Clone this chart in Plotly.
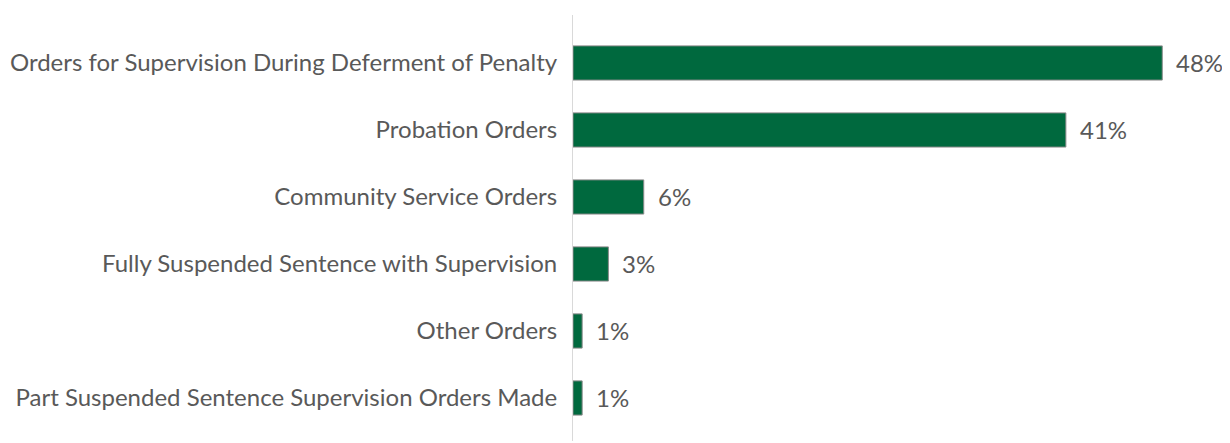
import plotly.graph_objects as go

categories = [
    "Orders for Supervision During Deferment of Penalty",
    "Probation Orders",
    "Community Service Orders",
    "Fully Suspended Sentence with Supervision",
    "Other Orders",
    "Part Suspended Sentence Supervision Orders Made",
]
values = [48.3, 40.4, 5.8, 2.9, 0.75, 0.75]
value_labels = ["48%", "41%", "6%", "3%", "1%", "1%"]

FONT = "Lato, 'Open Sans', sans-serif"
TXT = "#595959"
FS = 24

fig = go.Figure()
fig.add_trace(go.Bar(
    y=categories, x=values, orientation="h",
    marker=dict(color="#00693E", line=dict(color="#8a8a8a", width=1)),
    width=0.51, hoverinfo="skip",
))

for c, v, t in zip(categories, values, value_labels):
    fig.add_annotation(x=v, y=c, text=t, showarrow=False, xanchor="left",
                       yanchor="middle", xshift=12,
                       font=dict(family=FONT, size=FS, color=TXT))

n = len(categories)
fig.update_layout(
    width=1222, height=435,
    margin=dict(l=560, r=47, t=7, b=2),
    paper_bgcolor="white", plot_bgcolor="white",
    showlegend=False,
    font=dict(family=FONT, size=FS, color=TXT),
    xaxis=dict(range=[0, 50], visible=False, showgrid=False, zeroline=False),
    yaxis=dict(
        categoryorder="array", categoryarray=categories,
        range=[n - 1 + 0.642, -0.716],
        showline=True, linecolor="#d9d9d9", linewidth=1,
        showgrid=False, zeroline=False, ticks="",
        ticklabelstandoff=10,
        tickfont=dict(family=FONT, size=FS, color=TXT),
    ),
)

fig.write_html("out.html")
